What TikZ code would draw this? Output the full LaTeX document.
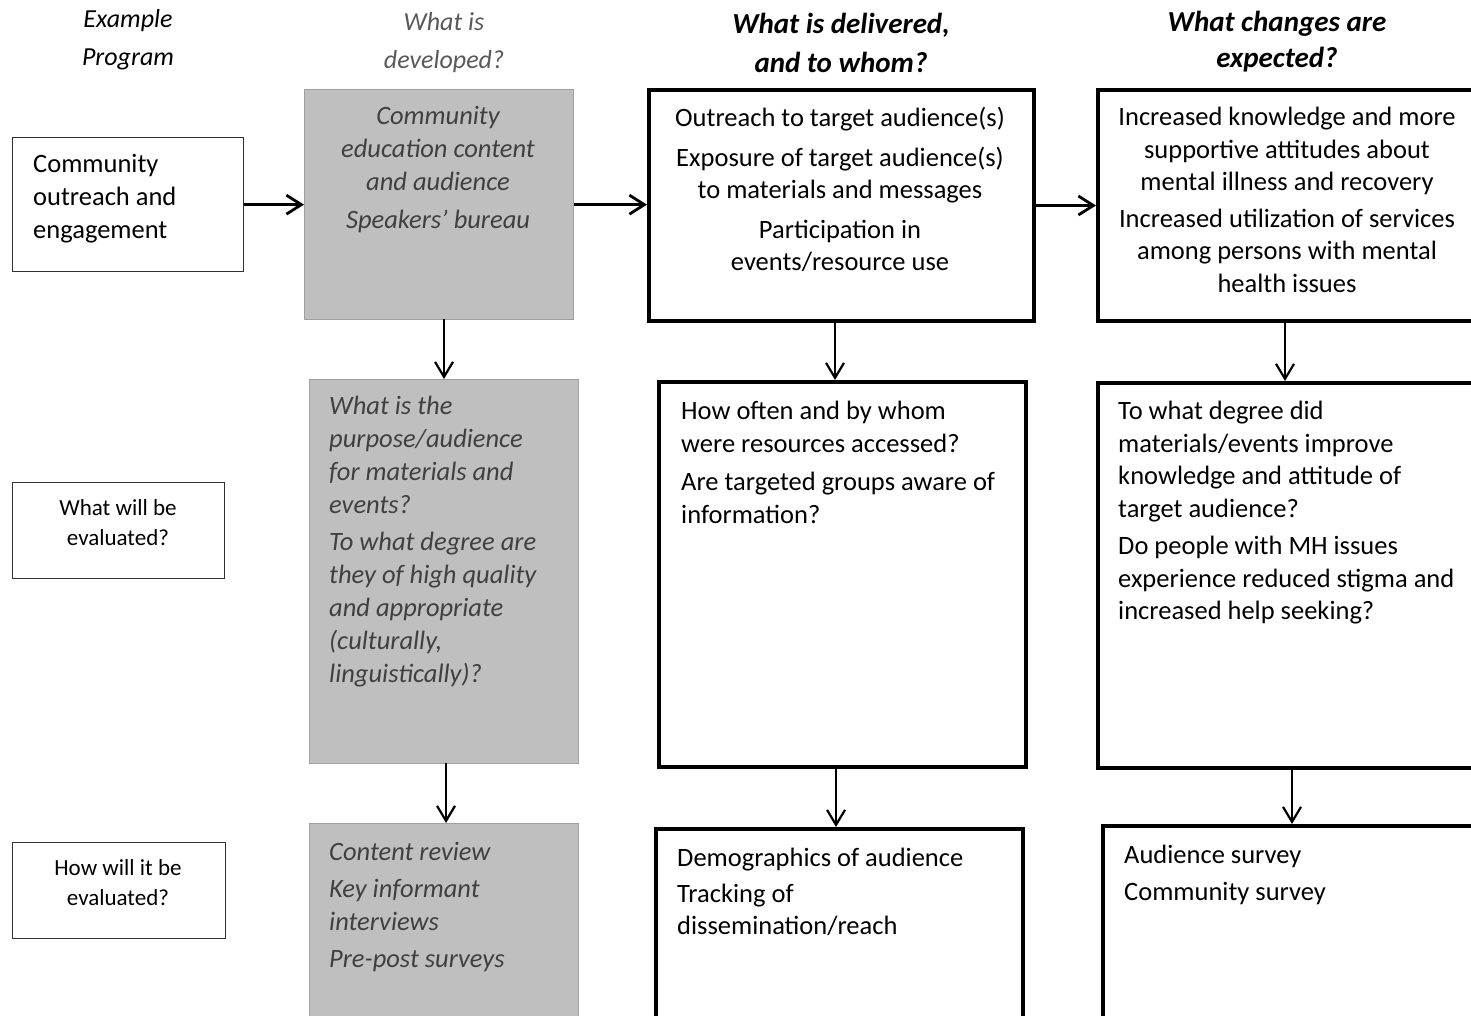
\documentclass[tikz,border=0pt]{standalone}
\usepackage{fontspec}
\setmainfont{Carlito}
\usetikzlibrary{arrows.meta}
\definecolor{boxgray}{HTML}{BFBFBF}
\definecolor{boxedge}{HTML}{A0A0A0}
\definecolor{graytext}{HTML}{404040}
\definecolor{headgray}{HTML}{595959}
\definecolor{thinedge}{HTML}{303030}
\tikzset{
  x=1pt,y=-1pt,
  thinbox/.style={draw=thinedge,line width=1.3pt,minimum width=#1,anchor=north west,inner sep=0pt},
  graybox/.style={draw=boxedge,fill=boxgray,line width=1.3pt,anchor=north west,inner sep=0pt},
  thickbox/.style={draw=black,line width=4pt,anchor=north west,inner sep=0pt},
  bigtxt/.style={inner sep=0pt,font=\fontsize{26.5}{32.5}\selectfont},
  smalltxt/.style={inner sep=0pt,font=\fontsize{23}{30}\selectfont},
  graytxt/.style={bigtxt,text=graytext,font=\fontsize{26.5}{33}\selectfont\itshape},
  headtxt/.style={inner sep=0pt,align=center,font=\fontsize{26}{38}\selectfont\itshape},
  harr/.style={line width=2.8pt,-{Straight Barb[length=15pt,width=19pt,line width=2.8pt]}},
  varr/.style={line width=2.2pt,-{Straight Barb[length=15pt,width=18pt,line width=2.2pt]}},
}
\begin{document}
\begin{tikzpicture}
\useasboundingbox (0,0) rectangle (1471,1016);
\clip (0,0) rectangle (1471,1016);
\fill[white] (0,0) rectangle (1471,1016);

% headers
\node[headtxt] (hA) at (128,40) {Example\\Program};
\node[headtxt,text=headgray] (hB) at (444,42.5) {What is\\developed?};
\node[headtxt,font=\fontsize{29}{39}\selectfont\bfseries\itshape] (hC) at (841,43) {What is delivered,\\and to whom?};
\node[headtxt,font=\fontsize{29}{36}\selectfont\bfseries\itshape] (hD) at (1277,42) {What changes are\\expected?};

% row 1 boxes
\node[thinbox=231pt,minimum height=134pt] (b0) at (12,137) {};
\node[graybox,minimum width=269pt,minimum height=230pt] (g1) at (304,89) {};
\node[thickbox,minimum width=385pt,minimum height=231pt] (d1) at (647,88) {};
\node[thickbox,minimum width=420pt,minimum height=231pt] (c1) at (1096,88) {};

% row 2 boxes
\node[thinbox=212pt,minimum height=96pt] (e2) at (12,482) {};
\node[graybox,minimum width=269pt,minimum height=384pt] (g2) at (309,379) {};
\node[thickbox,minimum width=367pt,minimum height=385pt] (d2) at (657,380) {};
\node[thickbox,minimum width=420pt,minimum height=385pt] (c2) at (1096,381) {};

% row 3 boxes
\node[thinbox=213pt,minimum height=96pt] (e3) at (12,842) {};
\node[graybox,minimum width=269pt,minimum height=230pt] (g3) at (309,823) {};
\node[thickbox,minimum width=367pt,minimum height=230pt] (d3) at (654,827) {};
\node[thickbox,minimum width=420pt,minimum height=230pt] (c3) at (1101,824) {};

% texts row 1
\node[bigtxt,align=left,anchor=north west,font=\fontsize{26.5}{33}\selectfont] (t0) at (33,154) {Community\\outreach and\\engagement};
\node[graytxt,align=center,anchor=north] (tg1) at (438,106) {Community\\education content\\and audience\\[5pt]Speakers’ bureau};
\node[bigtxt,align=center,anchor=north] (td1) at (840,107) {Outreach to target audience(s)\\[7pt]Exposure of target audience(s)\\to materials and messages\\[7pt]Participation in\\events/resource use};
\node[bigtxt,align=center,anchor=north] (tc1) at (1287,107) {Increased knowledge and more\\supportive attitudes about\\mental illness and recovery\\[4pt]Increased utilization of services\\among persons with mental\\health issues};

% texts row 2
\node[smalltxt,align=center,anchor=north] (te2) at (118,499) {What will be\\evaluated?};
\node[graytxt,align=left,anchor=north west] (tg2) at (329,396) {What is the\\purpose/audience\\for materials and\\events?\\[4pt]To what degree are\\they of high quality\\and appropriate\\(culturally,\\linguistically)?};
\node[bigtxt,align=left,anchor=north west] (td2) at (681,401) {How often and by whom\\were resources accessed?\\[6pt]Are targeted groups aware of\\information?};
\node[bigtxt,align=left,anchor=north west] (tc2) at (1118,401) {To what degree did\\materials/events improve\\knowledge and attitude of\\target audience?\\[5pt]Do people with MH issues\\experience reduced stigma and\\increased help seeking?};

% texts row 3
\node[smalltxt,align=center,anchor=north] (te3) at (118,859) {How will it be\\evaluated?};
\node[graytxt,align=left,anchor=north west] (tg3) at (329,842) {Content review\\[4pt]Key informant\\interviews\\[4pt]Pre-post surveys};
\node[bigtxt,align=left,anchor=north west] (td3) at (677,848) {Demographics of audience\\[3pt]Tracking of\\dissemination/reach};
\node[bigtxt,align=left,anchor=north west] (tc3) at (1124,845) {Audience survey\\[4pt]Community survey};

% horizontal arrows
\draw[harr] (b0.east) -- (b0.east -| g1.west);
\draw[harr] (g1.east) -- (g1.east -| d1.west);
\draw[harr] (d1.east) -- (d1.east -| c1.west);

% vertical arrows
\coordinate (v1) at (444,319);
\coordinate (v2) at (835,319);
\coordinate (v3) at (1285,319);
\coordinate (v4) at (446,763);
\coordinate (v5) at (836,765);
\coordinate (v6) at (1292,766);
\draw[varr] (v1) -- (v1 |- g2.north);
\draw[varr] (v2) -- (v2 |- d2.north);
\draw[varr] (v3) -- (v3 |- c2.north);
\draw[varr] (v4) -- (v4 |- g3.north);
\draw[varr] (v5) -- (v5 |- d3.north);
\draw[varr] (v6) -- (v6 |- c3.north);
\end{tikzpicture}
\end{document}
